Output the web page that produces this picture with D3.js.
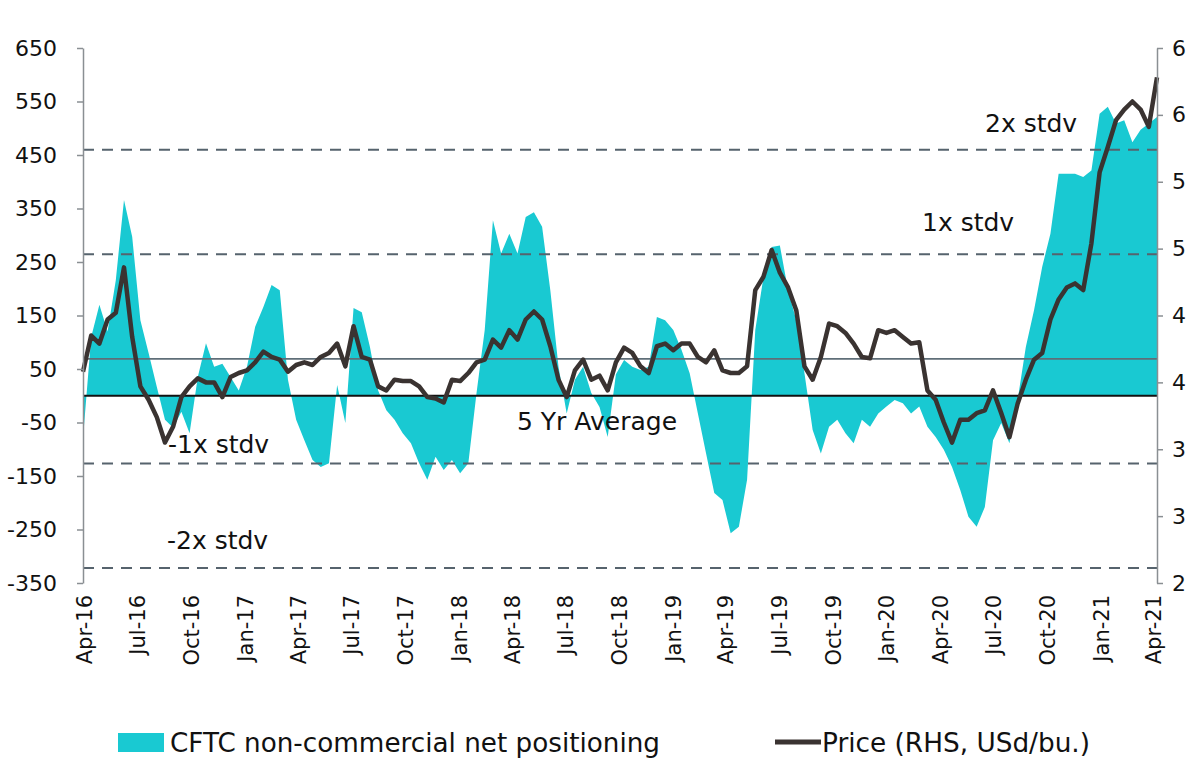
<!DOCTYPE html>
<html>
<head>
<meta charset="utf-8">
<script src="https://cdn.jsdelivr.net/npm/d3@7"></script>
<style>
  body { margin: 0; background: #fff; }
  text { font-family: 'DejaVu Sans', sans-serif; fill: #111; }
</style>
</head>
<body>
<svg id="chart" width="1200" height="770"></svg>
<script>
// CFTC net positioning (thousand contracts), one value every 2 weeks from 29 Mar 2016
const positioning = [
  -80, 110, 170, 120, 216, 366, 297, 141, 80, 17,
  -45, -60, -30, -70, 35, 98, 54, 60, 35, 10,
  54, 129, 166, 207, 197, 30, -45, -83, -120, -133,
  -126, 20, -51, 164, 156, 91, 10, -27, -45, -70,
  -89, -126, -157, -114, -139, -120, -145, -126, 5, 123,
  328, 266, 303, 266, 334, 343, 316, 197, 54, -33,
  30, 54, 5, -21, -77, 40, 67, 54, 48, 54,
  147, 141, 123, 86, 42, -33, -108, -182, -195, -257,
  -245, -157, 123, 222, 278, 281, 197, 141, 42, -64,
  -108, -58, -45, -70, -89, -45, -58, -33, -20, -8,
  -14, -33, -20, -58, -77, -101, -133, -176, -226, -245,
  -208, -83, -51, -89, -8, 91, 160, 241, 303, 415,
  415, 415, 409, 421, 527, 540, 509, 515, 474, 497,
  509, 521
]

// Price (RHS, USd/bu.), same dates
const price = [
  3.58, 3.85, 3.79, 3.97, 4.02, 4.36, 3.84, 3.47, 3.37, 3.24,
  3.05, 3.17, 3.39, 3.47, 3.53, 3.5, 3.5, 3.39, 3.54, 3.57,
  3.59, 3.65, 3.73, 3.69, 3.67, 3.58, 3.63, 3.65, 3.63, 3.69,
  3.72, 3.79, 3.62, 3.92, 3.69, 3.67, 3.47, 3.44, 3.52, 3.51,
  3.51, 3.47, 3.39, 3.38, 3.35, 3.52, 3.51, 3.57, 3.65, 3.67,
  3.82, 3.76, 3.89, 3.82, 3.97, 4.03, 3.97, 3.77, 3.52, 3.39,
  3.59, 3.67, 3.52, 3.55, 3.44, 3.65, 3.76, 3.72, 3.62, 3.57,
  3.77, 3.79, 3.74, 3.79, 3.79, 3.69, 3.65, 3.74, 3.59, 3.57,
  3.57, 3.62, 4.19, 4.29, 4.49, 4.32, 4.21, 4.04, 3.62, 3.52,
  3.69, 3.94, 3.92, 3.87, 3.79, 3.69, 3.68, 3.89, 3.87, 3.89,
  3.84, 3.79, 3.8, 3.44, 3.37, 3.2, 3.05, 3.22, 3.22, 3.27,
  3.29, 3.44, 3.27, 3.09, 3.34, 3.52, 3.67, 3.72, 3.97, 4.12,
  4.21, 4.24, 4.19, 4.54, 5.07, 5.26, 5.46, 5.54, 5.6, 5.54,
  5.41, 5.78
]

const avg5y = 69
const stdLevels = [
  {label: '2x stdv', value: 460, dx: 985, dy: -18},
  {label: '1x stdv', value: 264.5, dx: 922, dy: -23},
  {label: '-1x stdv', value: -126.5, dx: 168, dy: -10},
  {label: '-2x stdv', value: -322, dx: 167, dy: -19}
]
const leftTicks = [-350, -250, -150, -50, 50, 150, 250, 350, 450, 550, 650]
const rightTicks = [2, 2.5, 3, 3.5, 4, 4.5, 5, 5.5, 6]

const start = new Date(2016, 2, 29)
const dates = positioning.map((d, i) => d3.timeDay.offset(start, i * 14))
const rows = dates.map((d, i) => ({date: d, pos: positioning[i], price: price[i]}))

const plotLeft = 83
const plotRight = 1157
const plotTop = 48
const plotBottom = 583

const svg = d3.select('#chart')

const x = d3.scaleTime()
  .domain([start, d3.timeDay.offset(start, 1834)])
  .range([plotLeft, plotRight])
const yL = d3.scaleLinear().domain([-350, 650]).range([plotBottom, plotTop])
const yR = d3.scaleLinear().domain([2, 6]).range([plotBottom, plotTop])

// area for the positioning
const area = d3.area()
  .x((d) => x(d.date))
  .y0(yL(0))
  .y1((d) => yL(d.pos))
svg.append('path')
  .datum(rows)
  .attr('d', area)
  .attr('fill', '#19c9d2')

// average line
svg.append('line')
  .attr('x1', plotLeft).attr('x2', plotRight)
  .attr('y1', yL(avg5y)).attr('y2', yL(avg5y))
  .attr('stroke', '#5f6e78')
  .attr('stroke-width', 1.6)

// stdv dashed lines
svg.selectAll('.std')
  .data(stdLevels)
  .enter().append('line')
  .attr('class', 'std')
  .attr('x1', plotLeft).attr('x2', plotRight)
  .attr('y1', (d) => yL(d.value)).attr('y2', (d) => yL(d.value))
  .attr('stroke', '#56636d')
  .attr('stroke-width', 2)
  .attr('stroke-dasharray', '11,8')

// zero line
svg.append('line')
  .attr('x1', plotLeft).attr('x2', plotRight)
  .attr('y1', yL(0)).attr('y2', yL(0))
  .attr('stroke', '#111')
  .attr('stroke-width', 2.2)

// price line
const line = d3.line()
  .x((d) => x(d.date))
  .y((d) => yR(d.price))
svg.append('path')
  .datum(rows)
  .attr('d', line)
  .attr('fill', 'none')
  .attr('stroke', '#3a3331')
  .attr('stroke-width', 4.5)
  .attr('stroke-linejoin', 'round')

// axes (plain hyphen for negatives, like the original)
const gL = svg.append('g')
  .attr('transform', `translate(${plotLeft},0)`)
  .call(d3.axisLeft(yL).tickValues(leftTicks).tickSize(6).tickPadding(20).tickSizeOuter(0)
    .tickFormat((d) => String(d)))
const gR = svg.append('g')
  .attr('transform', `translate(${plotRight},0)`)
  .call(d3.axisRight(yR).tickValues(rightTicks).tickSize(6).tickPadding(9)
    .tickFormat((d) => String(Math.round(d))).tickSizeOuter(0))
;[gL, gR].forEach((g) => {
  g.select('.domain').attr('stroke', '#8a8f93').attr('stroke-width', 1.5)
  g.selectAll('.tick line').attr('stroke', '#8a8f93').attr('stroke-width', 1.5)
  g.selectAll('.tick text').style('font-size', '22px').style('font-family', 'DejaVu Sans, sans-serif').attr('fill', '#111')
})

// x labels, rotated
const xTicks = d3.timeMonth.every(3).range(new Date(2016, 3, 1), new Date(2021, 3, 2))
svg.selectAll('.xlab')
  .data(xTicks)
  .enter().append('text')
  .attr('class', 'xlab')
  .attr('transform', (d) => `translate(${x(d)},${plotBottom + 12}) rotate(-90)`)
  .attr('dy', '0.35em')
  .attr('text-anchor', 'end')
  .style('font-size', '21px')
  .text((d) => d3.timeFormat('%b-%y')(d))

// annotations
svg.selectAll('.stdlab')
  .data(stdLevels)
  .enter().append('text')
  .attr('class', 'stdlab')
  .attr('x', (d) => d.dx)
  .attr('y', (d) => yL(d.value) + d.dy)
  .style('font-size', '25px')
  .text((d) => d.label)
svg.append('text')
  .attr('x', 517)
  .attr('y', yL(0) + 34)
  .style('font-size', '25px')
  .text('5 Yr Average')

// legend
const lg = svg.append('g')
lg.append('rect')
  .attr('x', 118).attr('y', 733).attr('width', 46).attr('height', 19)
  .attr('fill', '#19c9d2')
lg.append('text')
  .attr('x', 170).attr('y', 752)
  .attr('textLength', 490).attr('lengthAdjust', 'spacingAndGlyphs')
  .style('font-size', '26px')
  .text('CFTC non-commercial net positioning')
lg.append('line')
  .attr('x1', 775).attr('x2', 821).attr('y1', 742).attr('y2', 742)
  .attr('stroke', '#3a3331').attr('stroke-width', 5)
lg.append('text')
  .attr('x', 822).attr('y', 752)
  .attr('textLength', 268).attr('lengthAdjust', 'spacingAndGlyphs')
  .style('font-size', '26px')
  .text('Price (RHS, USd/bu.)')
</script>
</body>
</html>
